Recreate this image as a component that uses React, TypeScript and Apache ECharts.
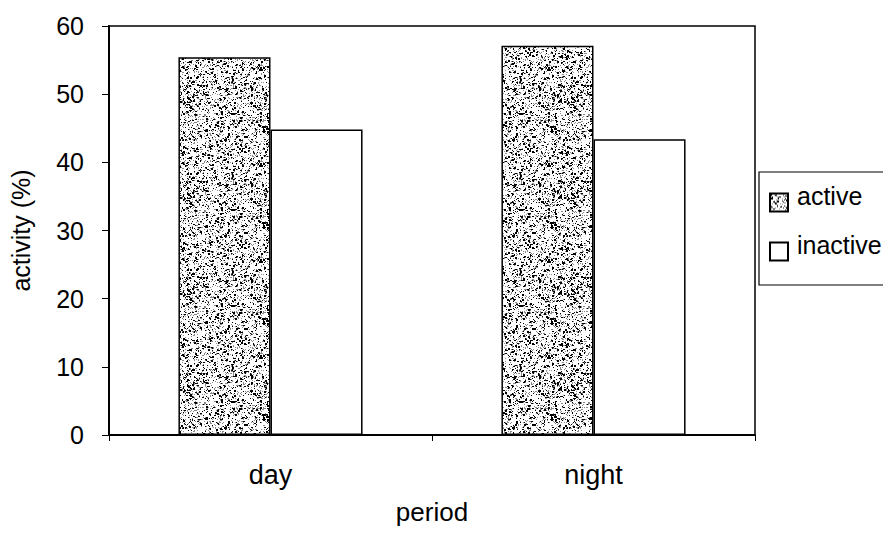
import React, { useEffect, useRef } from "react";
import * as echarts from "echarts";

const categories = ["day", "night"];
const activeValues = [55.4, 57.1];
const inactiveValues = [44.8, 43.4];
const yTicks = { min: 0, max: 60, interval: 10 };
const seriesNames = ["active", "inactive"];

function makeSpeckle(): HTMLCanvasElement {
  const c = document.createElement("canvas");
  const w = 96;
  const h = 96;
  c.width = w;
  c.height = h;
  const ctx = c.getContext("2d")!;
  ctx.fillStyle = "#ffffff";
  ctx.fillRect(0, 0, w, h);
  for (let y = 0; y < h; y++) {
    for (let x = 0; x < w; x++) {
      let v = (x * 374761393 + y * 668265263) | 0;
      v = Math.imul(v ^ (v >>> 13), 1274126177);
      v = v ^ (v >>> 16);
      const r = (v >>> 0) % 1000;
      if (r < 110) {
        ctx.fillStyle = "#000000";
        ctx.fillRect(x, y, r < 40 ? 2 : 1, r < 25 ? 2 : 1);
      } else if (r < 230) {
        ctx.fillStyle = "#8a8a8a";
        ctx.fillRect(x, y, 1, 1);
      }
    }
  }
  return c;
}

export default function App() {
  const ref = useRef<HTMLDivElement>(null);
  useEffect(() => {
    if (!ref.current) return;
    const chart = echarts.init(ref.current, undefined, { renderer: "svg" });
    const speckle = makeSpeckle();
    const font = "'Liberation Sans', Arial, sans-serif";
    chart.setOption({
      animation: false,
      backgroundColor: "#ffffff",
      textStyle: { fontFamily: font, color: "#000" },
      grid: {
        left: 109,
        right: 136,
        top: 26,
        bottom: 101,
        show: true,
        borderColor: "#000",
        borderWidth: 1.5,
        backgroundColor: "transparent",
        outerBoundsMode: "none",
        containLabel: false,
      },
      xAxis: {
        type: "category",
        data: categories,
        name: "period",
        nameLocation: "middle",
        nameGap: 64,
        nameTextStyle: { fontSize: 26, color: "#000", fontFamily: font },
        axisLine: { lineStyle: { color: "#000", width: 2 } },
        axisTick: { show: true, length: 6, lineStyle: { color: "#000", width: 1 } },
        axisLabel: { fontSize: 27, color: "#000", margin: 26, fontFamily: font },
        splitLine: { show: false },
      },
      yAxis: {
        type: "value",
        min: yTicks.min,
        max: yTicks.max,
        interval: yTicks.interval,
        name: "activity (%)",
        nameLocation: "middle",
        nameGap: 76,
        nameTextStyle: { fontSize: 25, color: "#000", fontFamily: font },
        axisLine: { show: true, lineStyle: { color: "#000", width: 2 } },
        axisTick: { show: true, length: 7, lineStyle: { color: "#000", width: 1 } },
        axisLabel: { fontSize: 25, color: "#000", margin: 25, fontFamily: font },
        splitLine: { show: false },
      },
      legend: {
        orient: "vertical",
        left: 769,
        top: 183,
        padding: 0,
        itemWidth: 18,
        itemHeight: 18,
        itemGap: 10,
        icon: "rect",
        formatter: "{t|{name}}",
        textStyle: {
          fontSize: 25,
          color: "#000",
          fontFamily: font,
          rich: {
            t: {
              fontSize: 25,
              fontFamily: font,
              color: "#000",
              lineHeight: 28,
              padding: [0, 0, 14, 4],
            },
          },
        },
        data: seriesNames,
      },
      graphic: [
        {
          type: "rect",
          shape: { x: 759, y: 172, width: 200, height: 113 },
          style: { fill: "#ffffff", stroke: "#000", lineWidth: 1.2 },
          z: -1,
        },
      ],
      series: [
        {
          name: seriesNames[0],
          type: "bar",
          data: activeValues,
          barGap: "0%",
          barCategoryGap: "43%",
          itemStyle: {
            color: { image: speckle, repeat: "repeat" },
            borderColor: "#000",
            borderWidth: 1.5,
          },
        },
        {
          name: seriesNames[1],
          type: "bar",
          data: inactiveValues,
          barGap: "0%",
          barCategoryGap: "43%",
          itemStyle: { color: "#ffffff", borderColor: "#000", borderWidth: 1.5 },
        },
      ],
    });
    return () => chart.dispose();
  }, []);
  return <div ref={ref} style={{ width: 891, height: 536, margin: -8 }} />;
}
